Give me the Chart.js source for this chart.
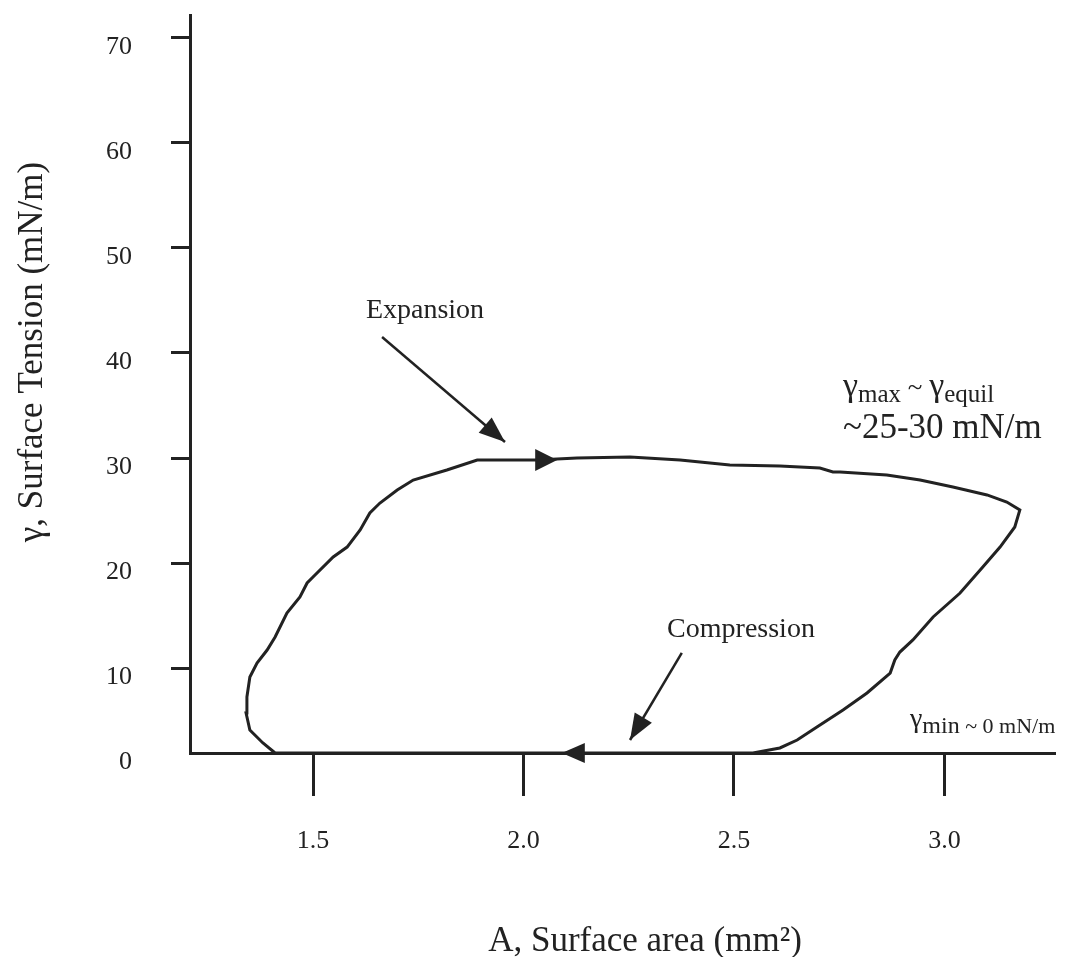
<!DOCTYPE html>
<html><head><meta charset="utf-8">
<script src="https://cdn.jsdelivr.net/npm/chart.js@4/dist/chart.umd.min.js"></script>
<style>html,body{margin:0;padding:0;background:#fff}#wrap{width:1068px;height:957px;position:relative}</style>
</head><body><div id="wrap"><canvas id="c"></canvas></div>
<script>
// ---- data (surface area in mm², surface tension in mN/m) ----
const areaValues = [1.410,1.381,1.350,1.341,1.343,1.350,1.367,1.391,1.410,1.438,1.469,1.486,1.500,1.548,1.581,1.612,1.635,1.659,1.700,1.738,1.818,1.890,1.920,2.032,2.127,2.253,2.372,2.490,2.609,2.704,2.735,2.752,2.863,2.942,3.020,3.101,3.148,3.179,3.167,3.132,3.091,3.037,2.973,2.925,2.894,2.882,2.871,2.816,2.759,2.697,2.650,2.609,2.545,2.300,2.000,1.700,1.410];
const tensionValues = [0,1.18,2.71,4.71,6.59,8.94,10.48,11.71,12.95,15.24,16.76,18.10,18.67,20.57,21.52,23.14,24.76,25.71,26.95,27.90,28.86,29.81,29.81,29.81,30.00,30.10,29.81,29.33,29.24,29.05,28.67,28.67,28.38,27.90,27.24,26.48,25.81,25.05,23.43,21.52,19.62,17.14,14.86,12.67,11.52,10.76,9.41,7.06,5.06,3.06,1.53,0.59,0,0,0,0,0];
const xTickValues = [1.5, 2.0, 2.5, 3.0];
const yTickValues = [0, 10, 20, 30, 40, 50, 60, 70];
const xTitle = 'A, Surface area (mm²)';
const yTitle = 'γ, Surface Tension (mN/m)';
const expansionLabel = 'Expansion';
const compressionLabel = 'Compression';

const ink = '#222';
const serif = '"Liberation Serif","Times New Roman",serif';

// the printed axis has a shorter 0–10 interval than the other decades
const K = 8.5 / 10.5;
function warp(v) { return v >= 10 ? v : 10 - (10 - v) * K; }
function unwarp(w) { return w >= 10 ? w : 10 - (10 - w) / K; }
class WarpedLinearScale extends Chart.LinearScale {
  getPixelForValue(v) { return super.getPixelForValue(warp(v)); }
  getValueForPixel(p) { return unwarp(super.getValueForPixel(p)); }
}
WarpedLinearScale.id = 'warpedLinear';
WarpedLinearScale.defaults = Chart.LinearScale.defaults;
Chart.register(WarpedLinearScale);

function runs(ctx, x, y, parts) {
  let cx = x;
  for (const [t, s, dy] of parts) {
    ctx.font = s + 'px ' + serif;
    ctx.fillText(t, cx, y + dy);
    cx += ctx.measureText(t).width;
  }
}
function head(ctx, x1, y1, x2, y2, len, half) {
  const a = Math.atan2(y2 - y1, x2 - x1);
  const bx = x2 - Math.cos(a) * len, by = y2 - Math.sin(a) * len;
  ctx.beginPath();
  ctx.moveTo(x2, y2);
  ctx.lineTo(bx + Math.sin(a) * half, by - Math.cos(a) * half);
  ctx.lineTo(bx - Math.sin(a) * half, by + Math.cos(a) * half);
  ctx.closePath();
  ctx.fill();
}

const annotations = {
  id: 'annotations',
  afterDatasetsDraw(chart) {
    const ctx = chart.ctx, xs = chart.scales.x, ys = chart.scales.y;
    const P = (a, t) => [xs.getPixelForValue(a), ys.getPixelForValue(t)];
    ctx.save();
    ctx.fillStyle = ink; ctx.strokeStyle = ink;
    // direction arrows on the loop
    let a = P(2.032, 29.81), b = P(2.080, 29.81);
    head(ctx, a[0], a[1], b[0], b[1], 22, 11);
    a = P(2.146, 0); b = P(2.091, 0);
    head(ctx, a[0], a[1], b[0], b[1], 23, 10);
    // pointer arrows
    ctx.lineWidth = 2.5;
    a = P(1.664, 41.52); b = P(1.956, 31.52);
    ctx.beginPath(); ctx.moveTo(a[0], a[1]); ctx.lineTo(b[0], b[1]); ctx.stroke();
    head(ctx, a[0], a[1], b[0], b[1], 26, 10);
    a = P(2.376, 11.43); b = P(2.253, 1.53);
    ctx.beginPath(); ctx.moveTo(a[0], a[1]); ctx.lineTo(b[0], b[1]); ctx.stroke();
    head(ctx, a[0], a[1], b[0], b[1], 26, 10);
    // labels
    ctx.textBaseline = 'alphabetic';
    ctx.textAlign = 'center';
    ctx.font = '28px ' + serif;
    ctx.fillText(expansionLabel, 425, 318);
    ctx.fillText(compressionLabel, 741, 637);
    ctx.textAlign = 'left';
    runs(ctx, 843, 396, [['γ', 34, 0], ['max', 25, 6], [' ~ ', 27, 0], ['γ', 34, 0], ['equil', 25, 6]]);
    ctx.font = '35px ' + serif;
    ctx.fillText('~25-30 mN/m', 843, 438);
    runs(ctx, 910, 727, [['γ', 28, 0], ['min', 24, 6], [' ~ 0 mN/m', 22, 6]]);
    // axis titles
    ctx.textAlign = 'center';
    ctx.font = '35px ' + serif;
    ctx.fillText(xTitle, 645, 951);
    ctx.translate(42, 352);
    ctx.rotate(-Math.PI / 2);
    ctx.fillText(yTitle, 0, 0);
    ctx.restore();
  }
};

new Chart(document.getElementById('c'), {
  type: 'scatter',
  data: {
    datasets: [{
      data: areaValues.map((x, i) => ({ x, y: tensionValues[i] })),
      showLine: true,
      borderColor: ink,
      borderWidth: 3,
      pointRadius: 0,
      tension: 0,
      clip: false
    }]
  },
  options: {
    responsive: true,
    maintainAspectRatio: false,
    animation: false,
    events: [],
    layout: { padding: { top: 15, right: 13, left: 0, bottom: 0 } },
    plugins: { legend: { display: false }, tooltip: { enabled: false } },
    scales: {
      x: {
        type: 'linear', position: 'bottom',
        min: 1.2078, max: 3.2625,
        afterBuildTicks: s => { s.ticks = xTickValues.map(v => ({ value: v })); },
        afterFit: s => { s.height = 204; s.paddingLeft = 0; s.paddingRight = 0; },
        border: { display: true, color: ink, width: 3 },
        grid: { drawOnChartArea: false, tickLength: 43, tickWidth: 3, tickColor: ink },
        ticks: { callback: v => Number(v).toFixed(1), color: ink, font: { family: serif, size: 26 }, padding: 30, maxRotation: 0 }
      },
      y: {
        type: 'warpedLinear', position: 'left',
        min: warp(0), max: 10 + 653 / 10.5,
        afterBuildTicks: s => { s.ticks = yTickValues.map(v => ({ value: v })); },
        afterFit: s => { s.width = 190; s.paddingTop = 0; s.paddingBottom = 0; },
        border: { display: true, color: ink, width: 3 },
        grid: { drawOnChartArea: false, tickLength: 19, tickWidth: 3,
                tickColor: c => (c.tick && c.tick.value === 0) ? 'rgba(0,0,0,0)' : ink },
        ticks: { callback: v => String(v), color: ink, font: { family: serif, size: 26 }, padding: 39, labelOffset: 9 }
      }
    }
  },
  plugins: [annotations]
});
</script>
</body></html>
